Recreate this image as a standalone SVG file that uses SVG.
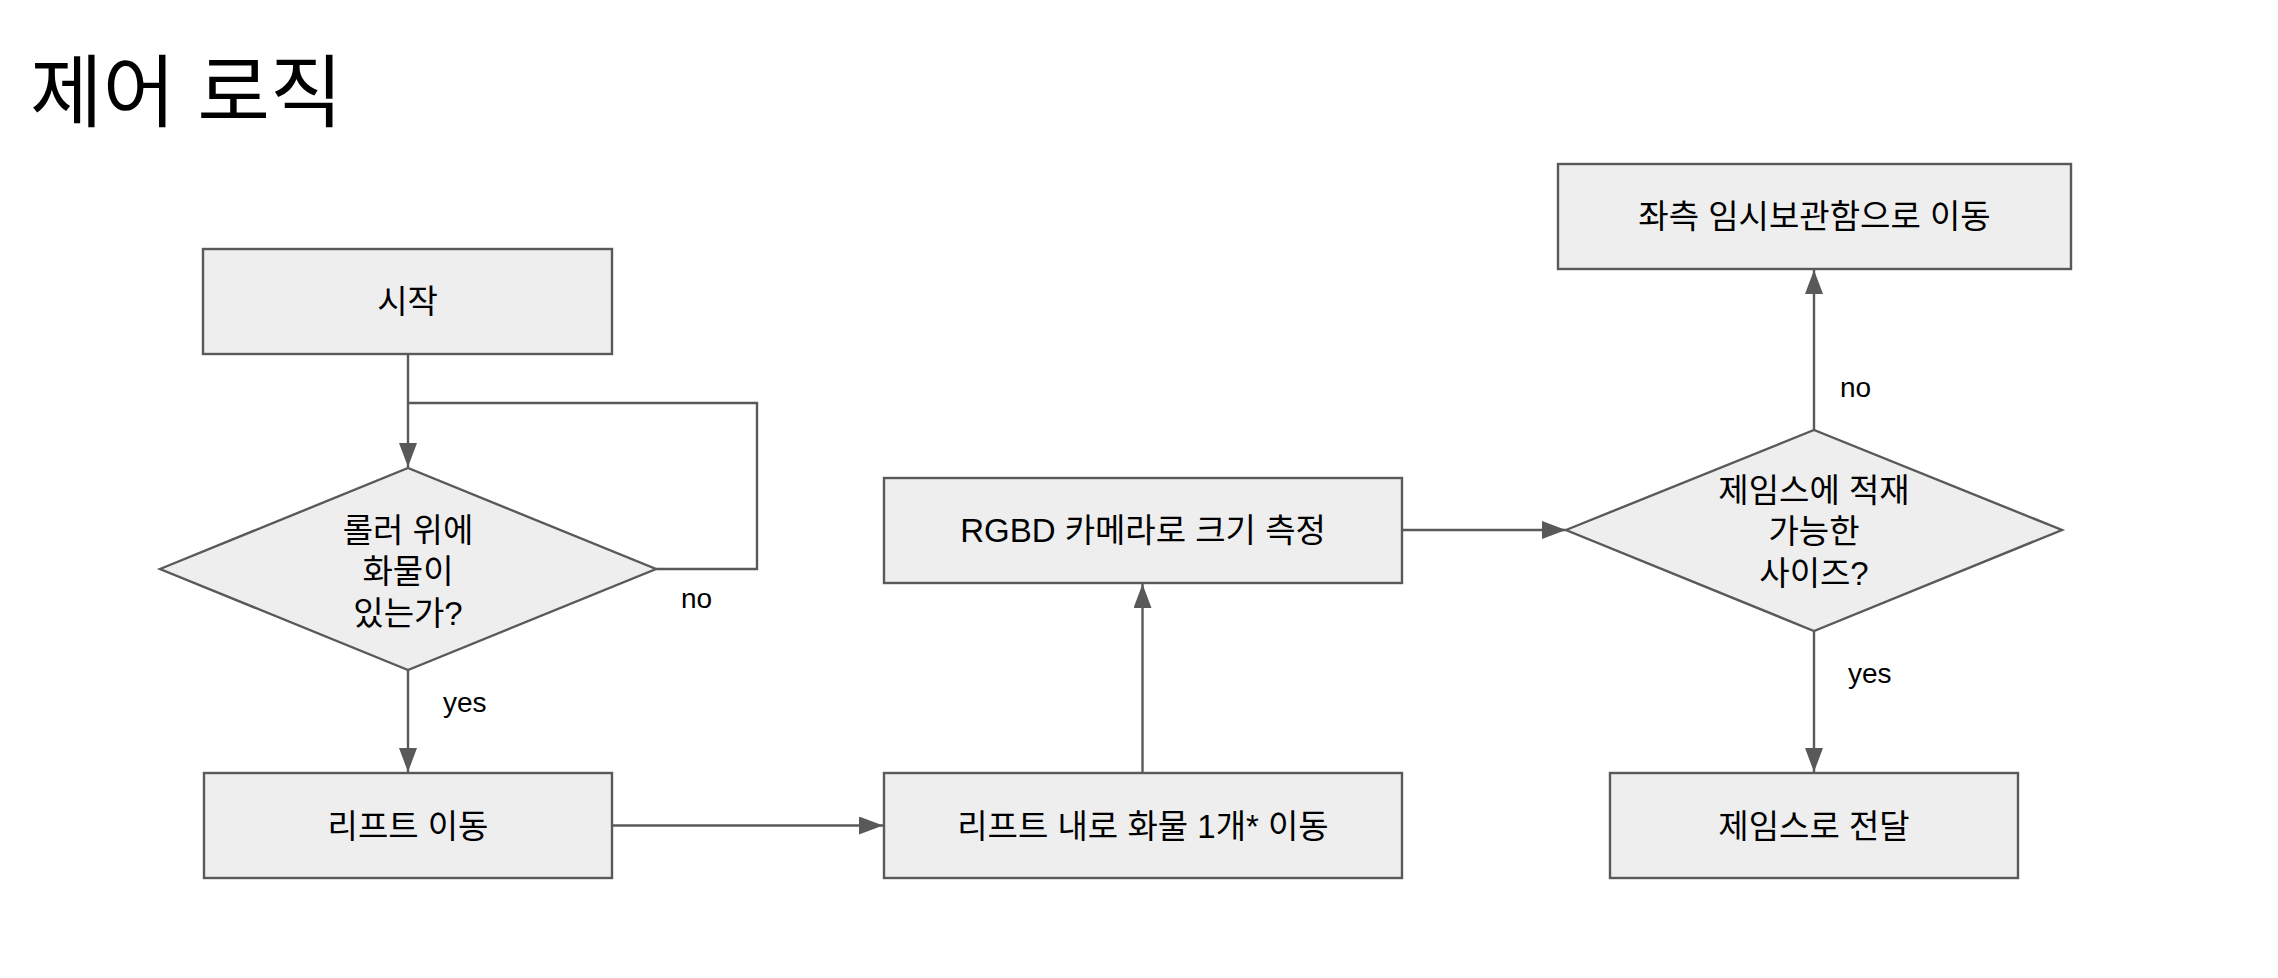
<svg xmlns="http://www.w3.org/2000/svg" width="2278" height="978" viewBox="0 0 2278 978">
<style>
.box{fill:#eeeeee;stroke:#595959;stroke-width:2.4}
.t{font-family:"Liberation Sans","Noto Sans CJK KR",sans-serif;font-size:33px;fill:#000;text-anchor:middle}
.lbl{font-family:"Liberation Sans","Noto Sans CJK KR",sans-serif;font-size:28px;fill:#000}
.title{font-family:"Liberation Sans","Noto Sans CJK KR",sans-serif;font-size:79px;fill:#000}
.c{fill:none;stroke:#595959;stroke-width:2.4}
</style>
<defs>
<marker id="ah" markerUnits="userSpaceOnUse" markerWidth="26" markerHeight="20" refX="24" refY="9" orient="auto">
<path d="M0,0 L24,9 L0,18 z" fill="#595959"/>
</marker>
</defs>
<rect width="2278" height="978" fill="#ffffff"/>
<text class="title" x="30" y="121">제어 로직</text>
<g id="connectors">
<path class="c" d="M408,354 V467" marker-end="url(#ah)"/>
<path class="c" d="M656,569 H757 V403 H408"/>
<path class="c" d="M408,670 V772" marker-end="url(#ah)"/>
<path class="c" d="M612,825.5 H883" marker-end="url(#ah)"/>
<path class="c" d="M1142.5,773 V584" marker-end="url(#ah)"/>
<path class="c" d="M1402,530 H1566" marker-end="url(#ah)"/>
<path class="c" d="M1814,430 V270" marker-end="url(#ah)"/>
<path class="c" d="M1814,631 V772" marker-end="url(#ah)"/>
<text class="lbl" x="681" y="608">no</text>
<text class="lbl" x="443" y="712">yes</text>
<text class="lbl" x="1840" y="397">no</text>
<text class="lbl" x="1848" y="683">yes</text>
</g>
<g id="start">
<rect class="box" x="203" y="249" width="409" height="105"/>
<text class="t" x="407.5" y="313">시작</text>
</g>
<g id="check-roller">
<polygon class="box" points="160,569 408,468 656,569 408,670"/>
<text class="t" x="408" y="542">롤러 위에</text>
<text class="t" x="408" y="583">화물이</text>
<text class="t" x="408" y="625">있는가?</text>
</g>
<g id="lift-move">
<rect class="box" x="204" y="773" width="408" height="105"/>
<text class="t" x="408" y="838">리프트 이동</text>
</g>
<g id="lift-cargo">
<rect class="box" x="884" y="773" width="518" height="105"/>
<text class="t" x="1143" y="838">리프트 내로 화물 1개* 이동</text>
</g>
<g id="rgbd">
<rect class="box" x="884" y="478" width="518" height="105"/>
<text class="t" x="1143" y="542">RGBD 카메라로 크기 측정</text>
</g>
<g id="check-size">
<polygon class="box" points="1566,530 1814,430 2062,530 1814,631"/>
<text class="t" x="1814" y="502">제임스에 적재</text>
<text class="t" x="1814" y="543">가능한</text>
<text class="t" x="1814" y="585">사이즈?</text>
</g>
<g id="left-storage">
<rect class="box" x="1558" y="164" width="513" height="105"/>
<text class="t" x="1814.5" y="228">좌측 임시보관함으로 이동</text>
</g>
<g id="to-james">
<rect class="box" x="1610" y="773" width="408" height="105"/>
<text class="t" x="1814" y="838">제임스로 전달</text>
</g>
</svg>
